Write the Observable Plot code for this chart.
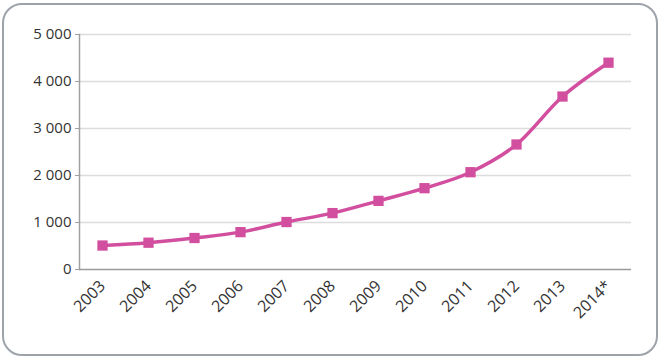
<!DOCTYPE html>
<html>
<head>
<meta charset="utf-8">
<script src="https://cdn.jsdelivr.net/npm/d3@7"></script>
<script src="https://cdn.jsdelivr.net/npm/@observablehq/plot@0.6"></script>
<style>
  html, body { margin: 0; padding: 0; background: #fff; }
  #wrap { position: relative; width: 661px; height: 360px; }
  #frame { position: absolute; left: 2px; top: 3px; width: 652px; height: 349px;
           border: 2px solid #9ea3aa; border-radius: 20px; box-sizing: content-box; }
  #chart { position: absolute; left: 0; top: 0; }
</style>
</head>
<body>
<div id="wrap"><div id="frame"></div><div id="chart"></div></div>
<script>
const years = ["2003","2004","2005","2006","2007","2008","2009","2010","2011","2012","2013","2014*"];
const values = [510, 570, 670, 795, 1010, 1200, 1460, 1730, 2070, 2660, 3680, 4400];
const yTicks = [0, 1000, 2000, 3000, 4000, 5000];

const data = years.map((y, i) => ({year: y, value: values[i]}));
const fmt = d3.formatLocale({decimal: ",", thousands: " ", grouping: [3], currency: ["", ""]}).format(",");
const pink = "#d24f9f";

const chart = Plot.plot({
  width: 661,
  height: 360,
  marginLeft: 79,
  marginRight: 30,
  marginTop: 34,
  marginBottom: 91,
  style: {fontFamily: "'Open Sans', sans-serif", fontSize: "15px", color: "#3a3a3a", background: "transparent"},
  x: {type: "point", domain: years, padding: 0.5},
  y: {domain: [0, 5000]},
  marks: [
    Plot.ruleY(yTicks.filter(d => d > 0), {stroke: "#dcdcdc", strokeWidth: 1.5}),
    Plot.frame({anchor: "left", stroke: "#a0a0a0", strokeWidth: 1.5}),
    Plot.axisY(yTicks, {tickFormat: fmt, tickSize: 4, tickPadding: 4, stroke: "#a0a0a0", fontSize: 15, fill: "#333", label: null}),
    Plot.axisX({tickRotate: -45, tickSize: 0, tickPadding: 14, fontSize: 16, fill: "#333", label: null}),
    Plot.ruleY([0], {stroke: "#9a9a9a", strokeWidth: 1.5}),
    Plot.line(data, {x: "year", y: "value", stroke: pink, strokeWidth: 3.5, curve: "monotone-x"}),
    Plot.dot(data, {x: "year", y: "value", symbol: "square", fill: pink, r: 5.8})
  ]
});
document.getElementById("chart").appendChild(chart);
</script>
</body>
</html>
